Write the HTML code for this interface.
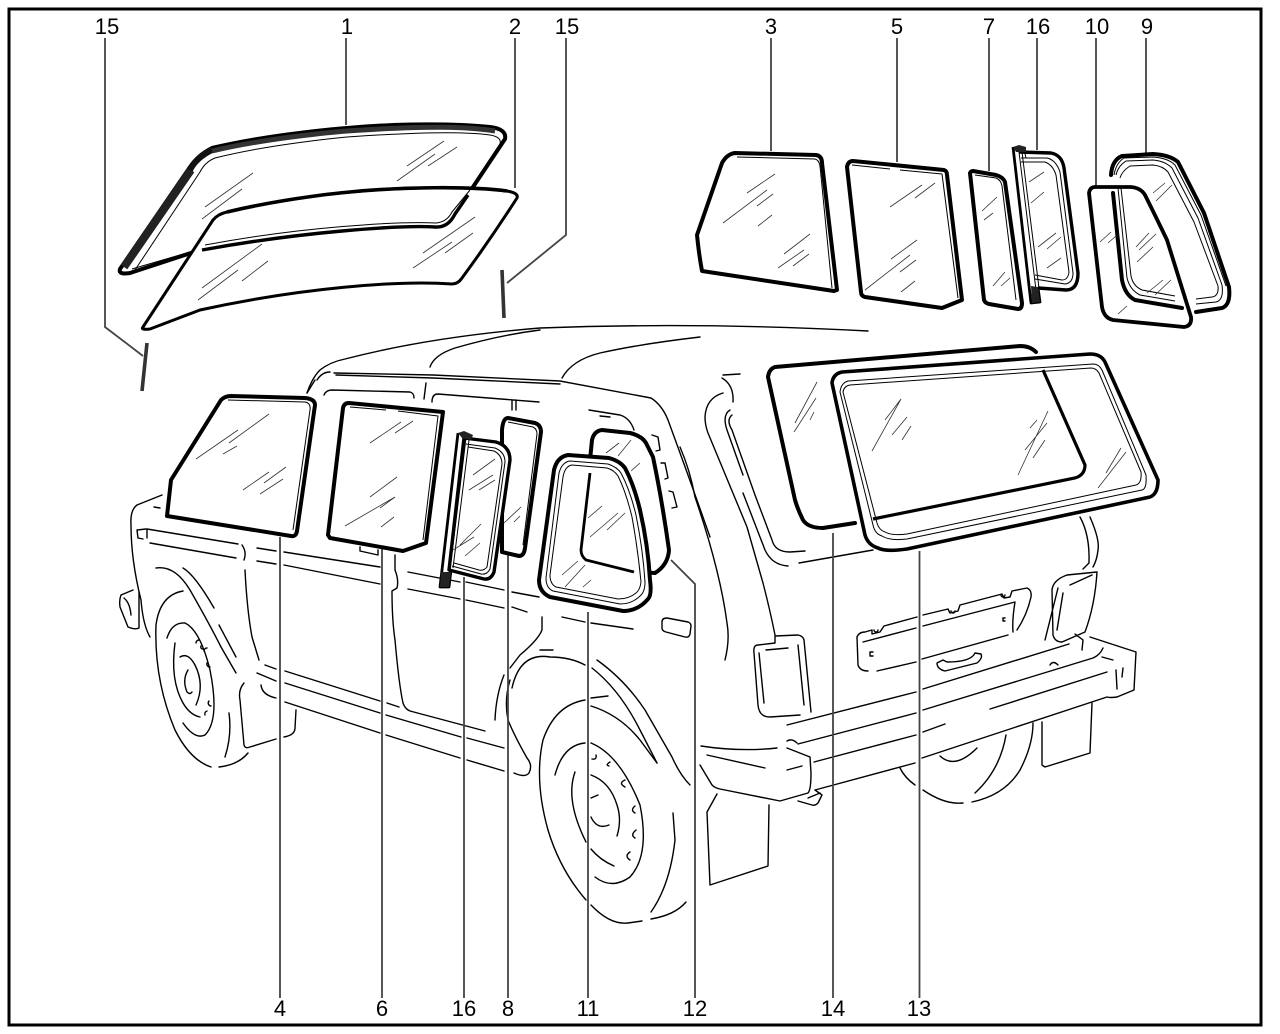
<!DOCTYPE html>
<html><head><meta charset="utf-8"><style>
html,body{margin:0;padding:0;background:#fff}
svg{display:block}
text{font-family:"Liberation Sans",sans-serif;font-size:22px;fill:#000;text-anchor:middle}
.c{fill:none;stroke:#000;stroke-width:1.4;stroke-linecap:round;stroke-linejoin:round}
.l{fill:none;stroke:#444;stroke-width:1.8}
.g{fill:#fff;stroke:#000;stroke-width:4;stroke-linejoin:round}
.n{fill:none;stroke:#000;stroke-width:4;stroke-linejoin:round;stroke-linecap:round}
.t{fill:none;stroke:#000;stroke-width:1;stroke-linejoin:round}
.h{fill:none;stroke:#333;stroke-width:.8}
</style></head><body>
<svg width="1280" height="1034" viewBox="0 0 1280 1034" xmlns="http://www.w3.org/2000/svg">
<rect width="1280" height="1034" fill="#fff"/>
<rect x="9" y="9" width="1252" height="1016" fill="none" stroke="#000" stroke-width="3"/>

<!-- car body -->
<g class="c">
<path d="M307 393Q312 378 320 370Q330 362 345 359Q430 337 540 328Q700 322 868 331"/>
<path d="M430 367Q434 355 455 348Q500 335 540 330"/>
<path d="M562 378Q572 360 600 353Q640 344 700 337"/>
<path d="M317 380Q322 372 330 372"/><path d="M334 373L433 375L560 381L651 398Q662 405 668 420Q690 480 710 537"/>
<path d="M336 375L433 378L560 384"/>
<path d="M680 447Q690 470 695 497Q720 570 727 623Q730 640 725 660"/>
<path d="M162 495L137 505Q130 510 131 525Q131 560 141 600Q143 625 150 637"/>
<path d="M154 507L160 508"/>
<path d="M146 529L137 530L138 538L143 539M147 530V538"/>
<path d="M147 529L238 544M150 543L236 558M257 548L276 551M257 561L276 564M284 552L380 567M284 565L380 584M408 572L460 582M408 589L460 599M466 582L504 590M466 600L504 608M512 592L539 597M512 607L527 612M562 617L585 622M591 623L633 629"/>
<path d="M360 547V551L378 555V550"/>
<path d="M662 622Q662 618 667 618L688 622Q691 623 691 626L690 634Q689 638 685 637L666 632Q662 631 662 628Z"/>
<path d="M242 545Q247 552 244 560M245 570Q247 610 252 637L259 660"/>
<path d="M395 555V570Q399 580 397 588L392 591Q392 620 395 640Q399 685 403 703Q405 709 410 711L485 731"/>
<path d="M265 665L276 669M285 671L380 701M387 703L399 707M257 673L276 681M285 683L380 713M386 715L461 737M467 738L504 748"/>
<path d="M261 685Q262 695 276 698M285 702L380 733M386 735L460 758M467 760L504 771"/>
<path d="M514 773Q525 778 529 773Q533 765 527 758Q514 735 508 720Q504 700 510 680"/>
<path d="M244 683Q238 690 240 700L244 745Q245 749 250 747L276 739M284 737Q295 735 295 728L296 710"/>
<path d="M183 591Q160 595 156 625Q154 680 175 730Q190 760 211 767M219 767Q238 765 248 753M225 757Q232 735 229 713"/>
<path d="M167 638Q172 622 185 623Q200 630 210 670Q220 720 205 735Q195 740 183 723"/>
<path d="M175 643Q170 680 183 703Q190 715 200 717"/>
<path d="M180 657Q188 652 195 665Q205 685 196 705M188 670Q182 680 187 692Q190 695 192 692"/>
<path d="M156 568Q175 565 190 590Q210 625 221 647L236 673M183 568Q195 575 214 608M219 625L236 657"/>
<path d="M196 643a3 3 0 0 1 3-3M204 651a3 3 0 0 1 3-3M207 663a3 3 0 0 0 3 4M209 701a3 3 0 0 0 2 5M205 715a3 3 0 0 1 2-4M201 646a2 2 0 0 0 2 3"/>
<path d="M542 617V630Q538 640 520 655L510 668"/>
<path d="M504 675Q496 695 495 720"/>
<path d="M133 590L121 595Q119 600 120 607L128 627Q135 630 139 628V592M124 598Q130 603 131 615"/>
<path d="M512 688Q520 652 550 657Q570 657 585 665M592 668Q620 690 640 730L657 763M597 660Q625 680 645 710L672 757Q680 775 690 785"/>
<path d="M540 650H553M591 698L608 696"/>
<path d="M585 700Q555 705 543 740Q534 780 548 830Q560 870 586 900M591 905Q610 925 628 923L642 921M651 919Q675 915 686 902M651 912Q670 885 675 840L673 813"/>
<path d="M591 706Q620 715 640 740L657 763"/>
<path d="M555 775Q563 745 585 743M591 743Q620 755 640 805Q650 855 630 877Q612 890 595 877"/>
<path d="M575 772Q565 800 586 842M591 849Q600 860 614 866"/>
<path d="M591 775Q610 782 617 805Q622 820 617 836M598 795L591 798M591 817Q597 830 609 825"/>
<path d="M596 755Q597 760 592 759M610 762Q605 765 609 766M625 780Q618 783 625 787M635 806Q630 810 635 813M636 830Q630 835 635 838M630 852Q624 856 630 860"/>
<path d="M717 794L707 812L710 885L768 866L769 805"/>
<path d="M700 765L712 785Q715 788 720 789L780 801L808 793Q811 790 811 773L810 757L787 748M701 746Q740 752 777 748M707 755L765 768M787 770L802 766"/>
<path d="M787 725L916 692M923 689L1069 644M798 744L916 713M923 710L1093 658Q1100 655 1103 648M787 741Q792 738 797 743M814 762L916 735M923 732L945 724M990 709L1107 672"/>
<path d="M1090 637L1136 652L1134 690L1117 697Q1110 698 1107 697L922 758M815 790L915 763"/>
<path d="M1102 657L1113 660M1116 670L1117 689M1123 668L1122 677M1050 665Q1053 660 1058 665"/>
<path d="M815 790L822 795L818 803Q815 806 812 805L798 801"/>
<path d="M808 798L820 793"/>
<path d="M900 768Q905 778 915 785M923 790Q945 805 963 803M972 802Q1005 795 1020 770Q1033 745 1033 723M975 793Q1000 770 1006 735M940 756Q955 770 977 748"/>
<path d="M1042 722V765L1045 767L1090 753L1092 703"/>
<path d="M754 653Q753 645 758 645L775 643L775 636L798 635Q803 636 804 640L811 712M754 653L758 705Q759 717 770 717L800 715M759 653L764 703M798 645L804 705M766 650L788 648"/>
<path d="M1097 572L1067 575Q1053 580 1052 590L1053 635Q1055 642 1062 642L1085 632Q1095 605 1097 572M1058 588L1045 640M1063 593L1057 630M1070 585L1092 575M1075 634L1083 640L1082 650"/>
<path d="M1080 517Q1090 535 1089 563L1083 569M1090 517Q1100 540 1098 550Q1097 560 1093 567"/>
<path d="M722 378Q734 385 733 402M723 375L740 374M723 393Q706 398 705 417Q705 425 708 433L747 527L763 583Q770 610 775 635"/>
<path d="M730 410Q722 415 727 430L743 475M732 415Q726 420 732 430L755 495L772 540Q775 552 790 552L805 551M743 493L765 550Q772 565 788 566M799 563L873 550"/>
<path d="M857 637Q859 632 865 632L872 630V634L880 632L884 626L917 617M923 615L948 609L950 613L958 611L960 605L1002 594L1004 598L1010 597L1012 591L1027 588Q1032 590 1031 597Q1027 615 1017 630"/>
<path d="M857 637L858 665Q860 671 868 671M877 671L916 662M922 659L1008 635M863 642L916 628M923 626L1015 602Q1012 620 1013 632M1001 595a2 2 0 0 0 4 0M951 611a2 2 0 0 0 4 0M874 630a2 2 0 0 0 4 0"/>
<path d="M937 663Q937 669 945 671L977 663Q983 658 981 654L975 653Q971 662 947 662L943 660Z"/>
<path d="M873 652H870V656H873M1005 618H1003V621H1005"/>
<path d="M324 395Q326 390 332 390L410 392Q414 393 414 398"/>
<path d="M426 383L424 399M432 402Q432 394 438 394L539 402M512 400V410M516 400V410"/>
<path d="M589 410L620 415Q630 418 634 430M600 416L610 417"/>
<path d="M652 435L658 437L660 450L656 451M661 463L665 463L668 478L665 479M669 491L673 492L677 507L672 508"/>
<path d="M307 393L315 380"/>
</g>

<!-- leader lines -->
<g class="l">
<path d="M105 38V327L143 356"/><path d="M346 38V125"/><path d="M515 38V188"/>
<path d="M566 38V235L507 283"/><path d="M771 38V151"/><path d="M897 38V162"/>
<path d="M989 38V171"/><path d="M1037 38V150"/><path d="M1096 38V186"/><path d="M1146 38V155"/>
<path d="M280 537V998"/><path d="M382 548V998"/><path d="M464 577V998"/>
<path d="M508 555V998"/><path d="M588 612V998"/>
<path d="M671 560L695 584V998"/><path d="M833 533V998"/><path d="M919.5 551V998"/>
</g>

<!-- windshield 1 -->
<path class="g" d="M120 269L190 167Q198 155 212 148C270 134 347 128 347 128C380 125 440 122 490 127Q507 129 505 139L455 214Q448 228 435 227C400 225 300 232 200 250L130 273Q118 275 120 269Z" stroke-width="3.4"/>
<path d="M124 267L191 170" fill="none" stroke="#222" stroke-width="8"/>
<path d="M190 170Q196 158 212 150" fill="none" stroke="#111" stroke-width="6"/>
<path d="M212 151C270 137 347 131 347 131C433 125 470 127 495 131" fill="none" stroke="#333" stroke-width="5"/>
<path class="t" d="M135 270L200 172Q205 162 215 158C270 144 347 137 347 137C433 131 470 132 490 135Q502 137 500 144L456 210"/>
<path class="t" d="M132 269L190 252"/>
<path class="h" d="M205 207L253 173M202 219L242 189M407 166L444 141M397 181L435 154M428 166L457 147"/>

<!-- rod 15s -->
<path d="M147 343L142 391" stroke="#333" stroke-width="3.6" fill="none"/>
<path d="M502 270L504 318" stroke="#333" stroke-width="3.6" fill="none"/>

<!-- glass 2 -->
<path d="M143 327L213 220Q218 214 227 212C290 197 350 192 350 192C400 187 470 186 507 191Q519 193 517 198Q490 240 462 278Q458 284 452 284C400 280 300 288 200 310L150 329Q140 330 143 327Z" fill="#fff" stroke="#000" stroke-width="3" stroke-linejoin="round"/>
<path d="M227 212C290 197 350 192 350 192C400 187 470 186 507 191" fill="none" stroke="#000" stroke-width="3.6"/>
<path class="h" d="M202 288L262 244M198 300L238 270M242 281L268 261M423 253L475 217M413 268L452 242M445 253L473 233"/>
<path d="M202 250C300 232 400 225 435 227Q448 228 455 214L468 195" fill="none" stroke="#000" stroke-width="3.4"/>
<path class="t" d="M205 245C300 227 400 221 436 223Q447 222 452 212L470 190"/>

<!-- glass 3 -->
<path class="g" d="M697 235L722 163Q727 154 735 153L816 155Q822 156 822 163L837 290L834 291L702 271Q699 255 697 235Z"/>
<path class="t" d="M737 157L815 159Q819 160 820 166L832 288"/>
<path class="h" d="M747 193L775 174M723 223L767 190M757 206L773 194M758 226L772 215M784 254L810 234M778 268L804 250M793 266L809 254"/>
<!-- glass 5 -->
<path class="g" d="M847 167Q848 161 853 161L944 170Q947 171 947 175L962 300L942 308L865 297Q861 296 861 292Z"/>
<path class="t" d="M852 165L890 169M900 170L942 174L958 298"/>
<path class="h" d="M890 207L922 185M915 198L935 183M891 259L917 240M865 290L910 255M900 272L916 260M901 292L915 281"/>
<!-- glass 7 -->
<path class="g" d="M970 173Q971 171 973 171L996 175Q1003 177 1005 182L1022 303Q1022 309 1018 309L989 304Q985 303 984 300Z"/>
<path class="t" d="M975 175L996 178Q1001 180 1002 186L1016 300"/>
<path class="h" d="M982 211L997 197M984 220L993 213M993 286L1005 272M1001 286L1010 278"/>
<!-- seal 16 upper -->
<path d="M1019 152L1051 153Q1062 155 1064 168L1078 273Q1078 290 1066 290L1038 288" fill="none" stroke="#000" stroke-width="3.4" stroke-linejoin="round"/>
<path class="t" d="M1021 158L1047 158Q1056 160 1060 172L1073 273Q1073 283 1065 284L1035 279M1021 162L1045 162Q1053 165 1056 175L1069 272Q1068 280 1062 280L1035 275M1019 152L1036 290M1022 152L1039 288M1024 149L1026 158"/>
<path d="M1013 147L1031 303L1040 302L1038 288" fill="none" stroke="#000" stroke-width="2.8" stroke-linejoin="round"/>
<path d="M1031 286L1038 287L1040 302L1032 303Z" fill="#222"/>
<path d="M1013 147L1019 145L1026 147L1026 152L1016 152Z" fill="#222"/>
<path class="h" d="M1029 182L1044 172M1031 203L1044 192M1038 247L1056 233M1047 249L1061 237M1047 268L1061 258"/>

<!-- seal 9 -->
<path d="M1111 175Q1112 160 1122 156L1153 154Q1170 155 1178 162L1204 213L1229 287Q1231 305 1222 308L1196 312L1182 308L1135 300Q1125 295 1122 280L1113 193Z" fill="#fff" stroke="none"/>
<path class="n" d="M1111 175Q1112 160 1122 156L1153 154Q1170 155 1178 162L1204 213L1229 287Q1231 305 1222 308L1196 312"/>
<path class="t" d="M1116 175Q1118 166 1126 161L1153 160Q1165 161 1172 168L1198 218L1222 285Q1224 300 1216 302L1196 304M1120 178Q1122 171 1130 166L1153 165Q1163 166 1168 172L1194 222L1218 286Q1219 296 1212 297L1196 299M1114 175Q1116 163 1124 158L1153 157Q1168 158 1175 165L1201 215L1226 286"/>
<!-- glass 10 -->
<path d="M1089 193Q1090 187 1095 187L1131 187Q1141 188 1145 195Q1155 215 1167 240L1191 317Q1192 326 1184 327L1113 320Q1104 318 1102 307Z" fill="#fff" stroke="#000" stroke-width="3.8" stroke-linejoin="round"/>
<path class="n" d="M1113 193L1122 280Q1125 295 1135 300L1182 308" stroke-width="3"/>
<path class="t" d="M1118 188L1127 278Q1130 290 1140 295L1175 301M1121 188L1131 276Q1133 286 1142 290L1175 296"/>
<path class="h" d="M1153 193L1165 183M1156 201L1172 185M1136 247L1149 233M1139 250L1156 234M1137 262L1153 247M1147 293L1163 280M1155 295L1171 280M1100 242L1111 232M1108 243L1116 236M1118 314L1127 306"/>

<!-- glass 4 -->
<path class="g" d="M167 516L171 480L221 400Q225 396 231 396L305 398Q315 399 315 405L297 531Q296 537 291 536Z"/>
<path class="t" d="M228 400L305 402Q311 403 310 410L293 530"/>
<path class="h" d="M196 459L238 430M229 443L269 414M223 454L237 446M243 490L269 472M264 483L286 467M260 494L283 479"/>
<!-- glass 6 -->
<path class="g" d="M328 535L343 408Q344 403 349 403L443 412L426 543L403 551L330 538Z"/>
<path class="t" d="M350 407L386 410M398 411L438 416L423 540"/>
<path class="h" d="M370 443L401 422M395 433L413 421M370 497L397 477M345 526L395 497M380 508L395 497M381 527L394 517"/>
<!-- glass 8 -->
<path class="g" d="M502 552L502 430Q503 418 508 418L535 423Q541 425 541 432L525 548Q524 556 519 556Z"/>
<path class="t" d="M508 422L533 427Q537 429 537 434L523 545"/>
<path class="h" d="M504 523L521 507M514 522L520 516"/>
<!-- seal 16 lower -->
<path d="M464 438L496 442Q510 446 510 460L494 572Q491 580 484 579L449 570Z" fill="#fff" stroke="#000" stroke-width="3.4" stroke-linejoin="round"/>
<path class="t" d="M466 444L495 448Q505 452 505 462L490 569Q487 575 481 574L452 566M468 447L494 451Q502 455 502 464L487 567Q484 571 479 570L454 563M466 438L450 570M469 440L453 568"/>
<path d="M458 433L440 587L449 587L451 570" fill="none" stroke="#000" stroke-width="2.8" stroke-linejoin="round"/>
<path d="M441 572L451 572L449 587L440 587Z" fill="#222"/>
<path d="M458 433L464 431L473 435L471 440L462 438Z" fill="#222"/>
<path class="h" d="M473 475L495 459M469 490L493 475M479 490L495 480M460 545L481 524M465 556L480 543M453 550L474 537"/>

<!-- glass 12 -->
<path class="g" d="M592 440Q594 431 602 430L630 433Q642 436 646 443L653 457Q662 500 669 550Q668 565 655 573L634 572L586 560Q580 555 581 550L592 440Z"/>
<!-- glass 11 -->
<path class="g" d="M539 580L554 470Q557 457 568 455L609 458Q620 461 625 468Q634 485 640 510Q648 545 650 580Q652 595 648 599Q638 611 623 611L550 597Q539 592 539 580Z" stroke-width="4.4"/>
<path class="t" d="M546 578L559 473Q562 462 570 461L608 464Q617 467 621 473Q630 490 636 515Q643 550 645 582Q645 592 640 596Q632 604 620 604L553 591Q546 588 546 578Z"/>
<path class="t" d="M550 575L563 477Q565 466 572 465L607 468Q614 470 618 476Q626 492 632 517Q638 550 641 582Q640 590 636 593Q629 599 618 599L556 587Q550 584 550 575Z"/>
<path d="M590 473L581 550Q581 556 586 560L634 572" fill="none" stroke="#000" stroke-width="2.8"/>
<path class="h" d="M588 518L602 506M590 537L618 513M607 530L625 513M562 575L578 561M565 587L585 565M583 587L591 580M606 453L619 443M618 456L631 440M631 471L640 463"/>

<!-- glass 14 -->
<path d="M768 377Q769 369 775 367L1020 346Q1030 346 1036 352L1085 465Q1085 475 1075 478L873 519L855 523L823 528Q808 528 803 520Q798 510 795 500Z" fill="#fff" stroke="none"/>
<path class="n" d="M855 523L823 528Q808 528 803 520Q798 510 795 500L768 377Q769 369 775 367L1020 346Q1030 346 1036 352" stroke-width="3.2"/>
<path class="h" d="M795 423L817 382M794 432L816 398M810 420L814 412"/>
<!-- glass 13 -->
<path d="M832 383Q833 374 842 372L1090 354Q1101 354 1105 362L1158 480Q1158 494 1150 497L907 549Q885 552 878 548Q868 545 865 535Z" fill="#fff" stroke="#000" stroke-width="3.6" stroke-linejoin="round"/>
<path d="M840 392Q841 383 848 381L1093 364Q1099 364 1102 370L1146 475Q1147 489 1142 490L907 539Q890 541 882 536Q875 534 873 525Z" fill="#fff" stroke="#000" stroke-width="1" stroke-linejoin="round"/>
<path class="t" d="M843 392Q844 386 850 385L1091 368Q1096 368 1099 373L1141 472Q1142 483 1136 485L907 534Q892 536 885 532Q879 530 877 523Z"/>
<path d="M1043 370L1085 465Q1085 475 1075 478L873 519" fill="none" stroke="#000" stroke-width="3.2"/>
<path class="h" d="M872 451L901 399M885 420L901 399M892 435L907 417M902 440L911 426M1018 475L1048 411M1025 450L1047 423M1033 458L1045 440M1030 428L1037 420M1098 488L1126 452M1106 473L1121 448"/>

<!-- labels -->
<text x="107" y="34">15</text><text x="347" y="34">1</text><text x="515" y="34">2</text><text x="567" y="34">15</text>
<text x="771" y="34">3</text><text x="897" y="34">5</text><text x="989" y="34">7</text><text x="1038" y="34">16</text>
<text x="1097" y="34">10</text><text x="1147" y="34">9</text>
<text x="280" y="1016">4</text><text x="382" y="1016">6</text><text x="464" y="1016">16</text><text x="508" y="1016">8</text>
<text x="588" y="1016">11</text><text x="695" y="1016">12</text><text x="833" y="1016">14</text><text x="919" y="1016">13</text>
</svg>
</body></html>
